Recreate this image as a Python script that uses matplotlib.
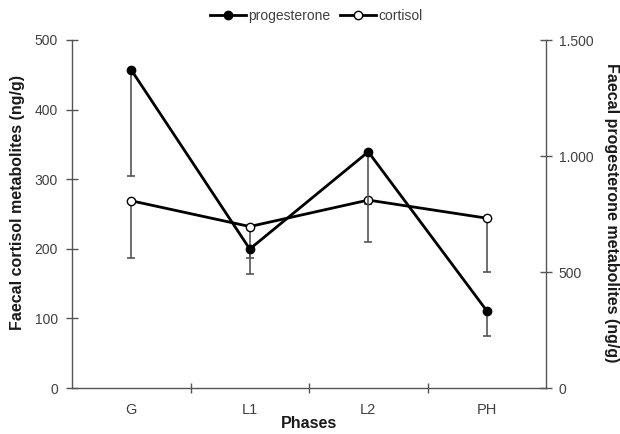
import matplotlib
matplotlib.use("Agg")
import matplotlib.pyplot as plt
from matplotlib.ticker import FuncFormatter, FixedLocator

plt.rcParams['font.family'] = ['Liberation Sans', 'DejaVu Sans']

phases = ["G", "L1", "L2", "PH"]
cortisol = [269, 232, 270, 244]
cortisol_err_low = [82, 45, 6, 78]
progesterone = [1371, 599, 1018, 333]
progesterone_err_low = [456, 108, 390, 108]

axis_col = "#555555"
text_col = "#404040"
label_col = "#1a1a1a"

W, H = 620, 434
fig = plt.figure(figsize=(6.2, 4.34), dpi=100)
ax = fig.add_axes([72/W, 46/H, 474/W, 348/H])
ax2 = ax.twinx()

x = list(range(len(phases)))

ax.errorbar(x, cortisol, yerr=[cortisol_err_low, [0]*4], fmt='none',
            ecolor=axis_col, elinewidth=1.2, capsize=3, capthick=1.2, zorder=2)
ax2.errorbar(x, progesterone, yerr=[progesterone_err_low, [0]*4], fmt='none',
             ecolor=axis_col, elinewidth=1.2, capsize=3, capthick=1.2, zorder=2)
l1, = ax2.plot(x, progesterone, color='black', lw=2, marker='o', ms=6,
               mfc='black', mec='black', zorder=4, label='progesterone')
l2, = ax.plot(x, cortisol, color='black', lw=2, marker='o', ms=6,
              mfc='white', mec='black', mew=1, zorder=4, label='cortisol')

ax.set_xlim(-0.5, 3.5)
ax.set_ylim(0, 500)
ax2.set_ylim(0, 1500)
ax.set_yticks([0, 100, 200, 300, 400, 500])
ax2.set_yticks([0, 500, 1000, 1500])
ax2.yaxis.set_major_formatter(FuncFormatter(lambda v, p: f"{int(v):,}".replace(",", ".")))

ax.xaxis.set_major_locator(FixedLocator([0.5, 1.5, 2.5]))
ax.xaxis.set_major_formatter(FuncFormatter(lambda v, p: ""))
ax.set_xticks(x, minor=True)
ax.set_xticklabels(phases, minor=True)
ax.tick_params(axis='x', which='minor', length=0, pad=11, labelsize=10.5, labelcolor=text_col)
ax.tick_params(axis='x', which='major', direction='inout', length=7, width=1, color=axis_col)

for a in (ax, ax2):
    a.spines['top'].set_visible(False)
    for s in ('left', 'right', 'bottom'):
        a.spines[s].set_color(axis_col)
        a.spines[s].set_linewidth(1)
ax.spines['right'].set_visible(False)
ax2.spines['left'].set_visible(False)
ax2.spines['bottom'].set_visible(False)

ax.tick_params(axis='y', direction='inout', length=8, width=1, color=axis_col,
               labelsize=10, labelcolor=text_col, pad=6)
ax2.tick_params(axis='y', direction='inout', length=8, width=1, color=axis_col,
                labelsize=10, labelcolor=text_col, pad=5)

fig.text(18/W, 1 - 203/H, "Faecal cortisol metabolites (ng/g)", rotation=90,
         ha='center', va='center', fontsize=11.5, fontweight='bold', color=label_col)
fig.text(612/W, 1 - 213/H, "Faecal progesterone metabolites (ng/g)", rotation=-90,
         ha='center', va='center', fontsize=11.5, fontweight='bold', color=label_col)
fig.text(309/W, 1 - 424/H, "Phases", ha='center', va='center',
         fontsize=11.5, fontweight='bold', color=label_col)

fig.legend(handles=[l1, l2], loc='center', bbox_to_anchor=(316/W, 1 - 16/H),
           ncol=2, frameon=False, fontsize=10, handlelength=2.6, handletextpad=0.15,
           columnspacing=0.7, labelcolor=text_col, borderpad=0)

fig.savefig("out.png", dpi=100)
